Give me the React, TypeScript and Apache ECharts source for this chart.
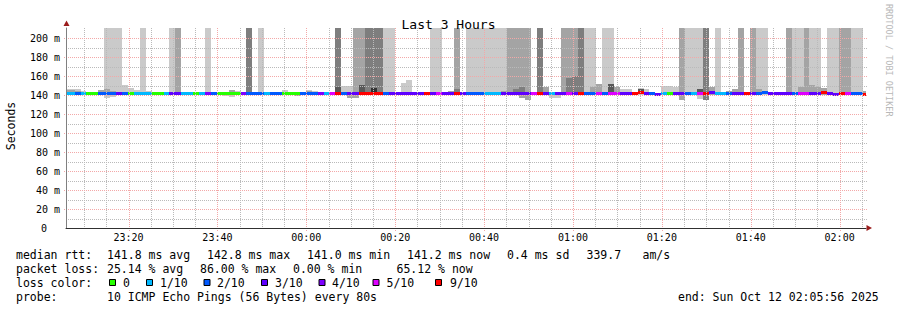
import React, { useEffect, useRef } from 'react';
import * as echarts from 'echarts';

// ---------- texts ----------
const TITLE = 'Last 3 Hours';
const Y_AXIS_NAME = 'Seconds';
const WATERMARK = 'RRDTOOL / TOBI OETIKER';
const FONT = '"DejaVu Sans Mono", "Liberation Mono", monospace';

// ---------- axes (x in minutes after 23:00 on Oct 11) ----------
const X_MIN = 5 + 56 / 60; // 23:05:56
const X_MAX = X_MIN + 180; // 02:05:56
const Y_MAX = 211;
const STEP_MINUTES = 80 / 60; // one probe round every 80 s
const FIRST_STEP_START = 5.21;

const xTickValues = [20, 40, 60, 80, 100, 120, 140, 160, 180];
const xTickLabels = ['23:20', '23:40', '00:00', '00:20', '00:40', '01:00', '01:20', '01:40', '02:00'];
const xMinorValues = [10, 15, 25, 30, 35, 45, 50, 55, 65, 70, 75, 85, 90, 95, 105, 110, 115, 125, 130, 135, 145, 150, 155, 165, 170, 175, 185];
const yTickValues = [0, 20, 40, 60, 80, 100, 120, 140, 160, 180, 200];
const yMinorValues = [10, 30, 50, 70, 90, 110, 130, 150, 170, 190];

// ---------- data: one entry per 80 s step ----------
const lossTenths = [
  1, 1, 2, 1, 0, 0, 2, 2, 2, 3,
  2, 0, 1, 1, 1, 0, 0, 1, 3, 3,
  1, 1, 0, 1, 4, 2, 0, 0, 0, 0,
  4, 2, 2, 2, 1, 2, 2, 0, 0, 0,
  2, 2, 2, 4, 1, 5, 9, 2, 3, 3,
  9, 9, 9, 9, 2, 3, 3, 3, 3, 3,
  3, 9, 3, 5, 3, 3, 9, 3, 2, 2,
  2, 1, 1, 1, 3, 3, 3, 3, 3, 5,
  9, 3, 1, 3, 3, 5, 3, 9, 2, 2,
  5, 2, 5, 5, 3, 3, 9, 9, 3, 2,
  3, 1, 0, 3, 3, 2, 1, 5, 9, 3,
  1, 1, 2, 3, 3, 9, 3, 2, 2, 3,
  3, 3, 3, 2, 5, 5, 3, 3, 9, 3,
  3, 9, 5, 2, 2, 9,
];

const medianMs = [
  141.4, 141.4, 141.4, 141.4, 141.4, 141.4, 141.4, 141.4, 141.4, 141.4,
  141.4, 141.4, 141.4, 141.4, 141.4, 141.4, 141.4, 141.4, 141.4, 141.4,
  141.4, 141.4, 141.4, 141.4, 141.4, 141.4, 141.4, 141.4, 141.4, 141.4,
  141.4, 141.4, 141.4, 141.4, 141.4, 141.4, 141.4, 141.4, 141.4, 141.4,
  141.4, 141.4, 141.4, 141.4, 141.4, 141.4, 141.4, 141.4, 141.4, 141.4,
  141.4, 141.4, 141.4, 141.4, 141.4, 141.4, 141.4, 141.4, 141.4, 141.4,
  141.4, 141.4, 141.4, 141.4, 141.4, 141.4, 141.4, 141.4, 141.4, 141.4,
  141.4, 141.4, 141.4, 141.4, 141.4, 141.4, 141.4, 141.4, 141.4, 141.4,
  141.4, 141.4, 141.4, 141.4, 141.4, 141.4, 141.4, 141.4, 141.4, 141.9,
  142.0, 141.4, 141.4, 141.4, 141.4, 141.4, 141.4, 142.8, 141.4, 141.4,
  141.0, 141.4, 141.4, 141.4, 141.4, 141.4, 141.4, 141.4, 141.4, 142.6,
  141.4, 141.4, 141.4, 141.4, 141.4, 141.4, 141.4, 141.4, 142.5, 141.4,
  141.4, 141.4, 141.4, 141.4, 141.4, 141.4, 141.4, 141.4, 142.7, 141.4,
  141.1, 141.4, 141.4, 141.4, 141.4, 141.2,
];

// smoke: [step, shade (1 light .. 5 darkest), low ms, high ms]
const smokeOuter = [
  [0, 1, 140.5, 147], [1, 1, 140.5, 147], [2, 1, 140.5, 146.5], [3, 1, 140.5, 145], [4, 1, 140.5, 143.5],
  [6, 2, 140.5, 145.5], [7, 1, 137.5, 211], [8, 1, 138.5, 211], [9, 1, 140, 211], [10, 1, 140.5, 151],
  [11, 1, 140.5, 148], [12, 1, 140.5, 146], [13, 1, 140, 211], [14, 1, 140.5, 145], [15, 1, 140.5, 144],
  [18, 1, 140, 211], [19, 2, 140.5, 211], [20, 1, 140.5, 143.5], [21, 1, 140.5, 143.5], [22, 1, 140.5, 143],
  [24, 1, 140.5, 211], [27, 1, 139, 143], [28, 1, 138.5, 145.5], [29, 1, 140.5, 145], [31, 3, 141, 211],
  [33, 1, 141, 211], [37, 1, 140.5, 145.5], [38, 1, 140.5, 144], [39, 2, 139.5, 142.5], [41, 1, 140.5, 145.5],
  [42, 1, 140.5, 144.5], [46, 3, 141, 211], [47, 1, 140.5, 150], [48, 1, 137.5, 150], [49, 2, 137.5, 211],
  [50, 2, 140, 211], [51, 3, 140.5, 211], [52, 3, 140.5, 211], [53, 3, 140.5, 211], [54, 1, 140.5, 211],
  [55, 1, 140.5, 211], [57, 1, 140.5, 153], [58, 1, 140.5, 156], [62, 1, 140.5, 211], [63, 1, 140.5, 211],
  [65, 2, 140.5, 145], [66, 2, 140.5, 211], [67, 1, 140.5, 144], [68, 1, 140.5, 211], [69, 1, 140.5, 211],
  [70, 1, 140.5, 211], [71, 1, 140.5, 211], [72, 1, 140.5, 211], [73, 1, 140.5, 211], [74, 1, 140.5, 211],
  [75, 2, 140.5, 211], [76, 2, 140.5, 211], [77, 2, 137, 211], [78, 2, 135, 211], [80, 3, 141, 211],
  [81, 2, 140.5, 149], [82, 1, 137.5, 142.5], [83, 1, 137.5, 142], [84, 2, 140.5, 211], [85, 2, 140.5, 211],
  [86, 2, 140.5, 211], [87, 3, 141, 211], [88, 1, 140.5, 211], [89, 1, 140.5, 211], [90, 2, 140.5, 152],
  [91, 1, 140.5, 211], [92, 1, 140.5, 211], [93, 2, 140.5, 149], [94, 1, 140.5, 147], [95, 1, 140.5, 147],
  [97, 1, 140.5, 148], [98, 1, 140.5, 146.5], [101, 1, 140.5, 149.5], [102, 1, 140.5, 149.5], [103, 1, 140.5, 149],
  [104, 2, 135, 211], [105, 1, 140.5, 211], [106, 1, 140.5, 211], [107, 1, 136.5, 211], [108, 3, 135.5, 211],
  [109, 2, 140.5, 148.5], [110, 1, 140.5, 211], [112, 2, 140.5, 145], [113, 2, 140.5, 147], [114, 2, 140.5, 211],
  [116, 2, 140.5, 211], [117, 1, 140.5, 211], [118, 1, 140.5, 211], [122, 2, 140.5, 211], [123, 1, 140.5, 211],
  [124, 1, 140.5, 211], [125, 2, 140.5, 211], [126, 1, 140.5, 211], [127, 1, 140.5, 211], [128, 2, 140.5, 148],
  [129, 1, 140.5, 211], [130, 1, 140.5, 211], [131, 2, 140.5, 211], [132, 2, 140.5, 211], [133, 1, 140.5, 211],
  [134, 1, 140.5, 211], [135, 2, 140.5, 145],
];

const smokeInner = [
  [0, 2, 141, 145.5], [1, 2, 141, 145.5], [2, 2, 141, 145], [7, 2, 141, 147], [8, 2, 141, 145],
  [18, 3, 141, 143.5], [28, 2, 141, 145.5], [37, 2, 141, 144], [38, 2, 141, 143], [41, 2, 141, 145],
  [46, 4, 141, 149], [48, 2, 137.5, 141], [49, 3, 141, 144], [50, 4, 141, 150.5], [52, 5, 142, 147.5],
  [66, 3, 141, 146.5], [73, 2, 141, 143.5], [74, 2, 141, 145], [75, 3, 141, 144], [76, 3, 141, 146.5],
  [77, 3, 141, 149], [78, 3, 141, 144], [85, 3, 141, 158], [86, 3, 141, 160], [89, 2, 141, 149],
  [92, 4, 141, 152], [97, 4, 141, 147], [107, 4, 141, 146.5], [117, 2, 141, 147], [124, 2, 141, 149],
  [126, 2, 141, 151], [127, 2, 141, 149],
];

const smokeShades = ['#cacaca', '#a4a4a4', '#7e7e7e', '#585858', '#323232'];
const lossLevels = [0, 1, 2, 3, 4, 5, 9];
const lossColors = ['#26ff00', '#00b8ff', '#0059ff', '#5e00ff', '#7e00ff', '#dd00ff', '#ff0000'];
const lossLabels = ['0', '1/10', '2/10', '3/10', '4/10', '5/10', '9/10'];

// legend texts
const rttTokens = ['median rtt:', '141.8 ms avg', '142.8 ms max', '141.0 ms min', '141.2 ms now', '0.4 ms sd', '339.7', 'am/s'];
const lossTokens = ['packet loss:', '25.14 % avg', '86.00 % max', '0.00 % min', '65.12 % now'];
const probeTokens = ['probe:', '10 ICMP Echo Pings (56 Bytes) every 80s'];
const lossColorTitle = 'loss color:';
const endText = 'end: Sun Oct 12 02:05:56 2025';

// ---------- layout ----------
const rttX = [16, 107, 207, 307, 407, 507, 586.5, 642.5];
const lossX = [16, 107, 200, 293, 396.5];
const probeX = [16, 107];
const boxX = [109, 146, 203.5, 261, 318.5, 372.5, 435];
const boxLabelX = [123, 160, 217, 275, 332, 386.5, 450];
const rowY = [254.5, 268.5, 282.5, 296.5];
const MINOR_COLOR = '#bababa';
const MAJOR_COLOR = '#f3a8a8';

function lossColor(v: number): string {
  let c = lossColors[0];
  for (let i = 0; i < lossLevels.length; i++) if (v >= lossLevels[i]) c = lossColors[i];
  return c;
}
const stepStart = (k: number) => FIRST_STEP_START + k * STEP_MINUTES;

const bandRender = (_p: any, api: any) => {
  const t0 = api.value(0);
  const lo = api.value(1);
  const hi = api.value(2);
  const shade = api.value(3);
  const a = Math.max(t0, X_MIN);
  const b = Math.min(t0 + STEP_MINUTES, X_MAX);
  if (b <= a) return null;
  const p0 = api.coord([a, Math.min(hi, Y_MAX)]);
  const p1 = api.coord([b, lo]);
  const x0 = Math.round(p0[0]);
  const x1 = Math.round(p1[0]);
  const y0 = Math.round(p0[1]);
  const y1 = Math.round(p1[1]);
  return {
    type: 'rect',
    shape: { x: x0, y: y0, width: x1 - x0, height: y1 - y0 },
    style: { fill: smokeShades[shade - 1] },
  };
};

const medianRender = (_p: any, api: any) => {
  const t0 = api.value(0);
  const m = api.value(1);
  const loss = api.value(2);
  const a = Math.max(t0, X_MIN);
  const b = Math.min(t0 + STEP_MINUTES, X_MAX);
  if (b <= a) return null;
  const p0 = api.coord([a, m]);
  const p1 = api.coord([b, m]);
  const x0 = Math.round(p0[0]);
  const x1 = Math.round(p1[0]);
  return {
    type: 'rect',
    shape: { x: x0, y: Math.round(p0[1] - 1.5), width: x1 - x0, height: 3 },
    style: { fill: lossColor(loss) },
  };
};

function textEl(text: string, x: number, y: number, size: number, extra: any = {}) {
  return {
    type: 'text',
    x,
    y,
    silent: true,
    ...extra,
    style: {
      text,
      x: 0,
      y: 0,
      fill: extra.fill || '#000',
      font: `${size}px ${FONT}`,
      align: extra.align || 'left',
      verticalAlign: 'middle',
      textAlign: extra.align || 'left',
      textVerticalAlign: 'middle',
    },
  };
}

function staticGraphic() {
  const graphic: any[] = [];
  graphic.push({ type: 'polygon', silent: true, z: 20, shape: { points: [[63.5, 26], [69.5, 26], [66.5, 20.5]] }, style: { fill: '#9b1c1c' } });
  graphic.push({ type: 'polygon', silent: true, z: 20, shape: { points: [[866.5, 225], [866.5, 231], [872, 228]] }, style: { fill: '#9b1c1c' } });
  graphic.push(textEl(Y_AXIS_NAME, 11, 126, 11.5, { rotation: Math.PI / 2, align: 'center' }));
  graphic.push(textEl(WATERMARK, 889, 4, 8.5, { rotation: -Math.PI / 2, fill: '#b8b8b8' }));
  rttTokens.forEach((t, i) => graphic.push(textEl(t, rttX[i], rowY[0], 11.5)));
  lossTokens.forEach((t, i) => graphic.push(textEl(t, lossX[i], rowY[1], 11.5)));
  graphic.push(textEl(lossColorTitle, 16, rowY[2], 11.5));
  lossColors.forEach((c, i) => {
    graphic.push({
      type: 'rect',
      silent: true,
      shape: { x: boxX[i] + 0.5, y: 279.5, width: 6, height: 6 },
      style: { fill: c, stroke: '#000', lineWidth: 1 },
    });
    graphic.push(textEl(lossLabels[i], boxLabelX[i], rowY[2], 11.5));
  });
  probeTokens.forEach((t, i) => graphic.push(textEl(t, probeX[i], rowY[3], 11.5)));
  graphic.push(textEl(endText, 678, rowY[3], 11.5));
  return graphic;
}

// grid lines positioned with the chart's own scales (convertToPixel)
function gridGraphic(chart: any) {
  const els: any[] = [];
  const toPx = (x: number, y: number) => chart.convertToPixel({ gridIndex: 0 }, [x, y]);
  const top = Math.round(toPx(X_MIN, Y_MAX)[1]);
  const bottom = Math.round(toPx(X_MIN, 0)[1]);
  const left = Math.round(toPx(X_MIN, 0)[0]);
  const right = Math.round(toPx(X_MAX, 0)[0]) + 2;
  const dotLine = (x1: number, y1: number, x2: number, y2: number, color: string, z: number) => ({
    type: 'line',
    silent: true,
    z,
    shape: { x1, y1, x2, y2 },
    style: { stroke: color, lineWidth: 1, lineDash: [1, 1] },
  });
  xMinorValues.forEach((v) => {
    const x = Math.round(toPx(v, 0)[0]) + 0.5;
    els.push(dotLine(x, top, x, bottom, MINOR_COLOR, 10));
  });
  yMinorValues.forEach((v) => {
    const y = Math.round(toPx(X_MIN, v)[1]) + 0.5;
    els.push(dotLine(left, y, right, y, MINOR_COLOR, 10));
  });
  xTickValues.forEach((v) => {
    const x = Math.round(toPx(v, 0)[0]) + 0.5;
    els.push(dotLine(x, top, x, bottom + 3, MAJOR_COLOR, 11));
  });
  yTickValues.forEach((v) => {
    if (v === 0) return;
    const y = Math.round(toPx(X_MIN, v)[1]) + 0.5;
    els.push(dotLine(left - 2, y, right, y, MAJOR_COLOR, 11));
  });
  return els;
}

function buildOption() {
  const outerData = smokeOuter.map(([k, s, lo, hi]) => [stepStart(k), lo, hi, s]);
  const innerData = smokeInner.map(([k, s, lo, hi]) => [stepStart(k), lo, hi, s]);
  const medianData = medianMs.map((m, k) => [stepStart(k), m, lossTenths[k]]);

  return {
    animation: false,
    backgroundColor: '#ffffff',
    title: {
      text: TITLE,
      left: 'center',
      top: 13,
      textStyle: { fontFamily: FONT, fontSize: 13, fontWeight: 'normal', color: '#000' },
    },
    grid: { left: 66, right: 31, top: 28, bottom: 82, containLabel: false },
    xAxis: {
      type: 'value',
      min: X_MIN,
      max: X_MAX,
      z: 12,
      axisLine: { show: true, onZero: false, lineStyle: { color: '#303030', width: 1 } },
      axisTick: { show: false, customValues: xTickValues },
      axisLabel: {
        customValues: xTickValues,
        formatter: (v: number) => {
          const i = xTickValues.indexOf(Math.round(v));
          return i >= 0 ? xTickLabels[i] : '';
        },
        margin: 4,
        fontFamily: FONT,
        fontSize: 10,
        color: '#000',
      },
      splitLine: { show: false },
    },
    yAxis: {
      type: 'value',
      min: 0,
      max: Y_MAX,
      z: 12,
      axisLine: { show: true, onZero: false, lineStyle: { color: '#808080', width: 1 } },
      axisTick: { show: false, customValues: yTickValues },
      axisLabel: {
        customValues: yTickValues,
        formatter: (v: number) => (v === 0 ? '{z|0}' : `${v} m`),
        rich: { z: { padding: [0, 13, 0, 0], fontFamily: FONT, fontSize: 10, color: '#000' } },
        margin: 6,
        fontFamily: FONT,
        fontSize: 10,
        color: '#000',
      },
      splitLine: { show: false },
    },
    series: [
      { type: 'custom', name: 'smoke outer', z: 2, silent: true, renderItem: bandRender, encode: { x: 0, y: [1, 2] }, data: outerData },
      { type: 'custom', name: 'smoke inner', z: 3, silent: true, renderItem: bandRender, encode: { x: 0, y: [1, 2] }, data: innerData },
      { type: 'custom', name: 'median rtt', z: 4, silent: true, renderItem: medianRender, encode: { x: 0, y: 1 }, data: medianData },
    ],
    graphic: staticGraphic(),
  };
}

export default function App() {
  const ref = useRef<HTMLDivElement>(null);
  useEffect(() => {
    document.body.style.margin = '0';
    if (!ref.current) return;
    const chart = echarts.init(ref.current, undefined, { renderer: 'svg' });
    chart.setOption(buildOption() as any);
    chart.setOption({ graphic: [...staticGraphic(), ...gridGraphic(chart)] } as any, { replaceMerge: ['graphic'] } as any);
    return () => chart.dispose();
  }, []);
  return <div ref={ref} style={{ width: 897, height: 310 }} />;
}
